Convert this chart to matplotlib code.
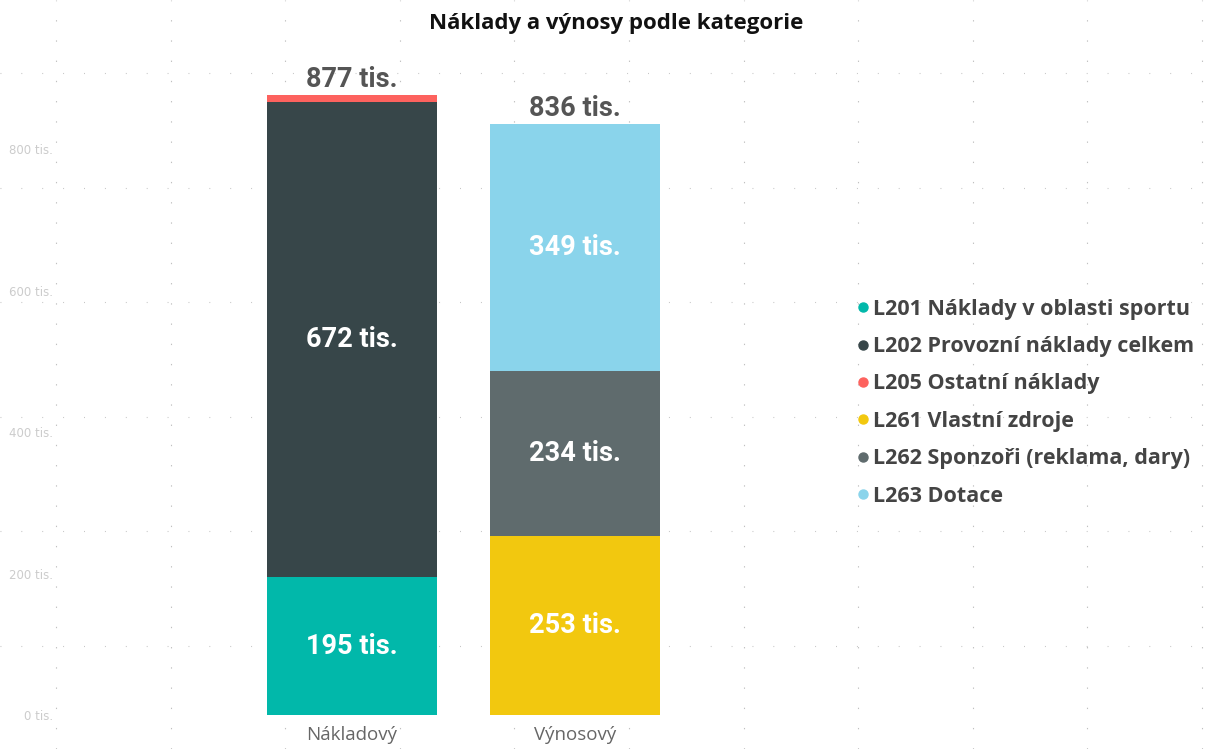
import matplotlib
matplotlib.use("Agg")
import matplotlib.pyplot as plt
from matplotlib.lines import Line2D
import numpy as np

# ---- data ----
categories = ["Nákladový", "Výnosový"]
series_names = [
    "L201 Náklady v oblasti sportu",
    "L202 Provozní náklady celkem",
    "L205 Ostatní náklady",
    "L261 Vlastní zdroje",
    "L262 Sponzoři (reklama, dary)",
    "L263 Dotace",
]
# values in thousands per category (Nákladový, Výnosový)
series_values = [
    [195, 0],
    [672, 0],
    [10, 0],
    [0, 253],
    [0, 234],
    [0, 349],
]
series_colors = ["#01B8AA", "#374649", "#FD625E", "#F2C80F", "#5F6B6D", "#8AD4EB"]
show_label = [True, True, False, True, True, True]
totals_text = ["877 tis.", "836 tis."]
ytick_values = [0, 200, 400, 600, 800]
ytick_labels = ["0 tis.", "200 tis.", "400 tis.", "600 tis.", "800 tis."]
title = "Náklady a výnosy podle kategorie"

W, H = 1209, 749
fig = plt.figure(figsize=(W / 100, H / 100), dpi=100)
fig.patch.set_facecolor("white")

# background canvas grid (Power BI edit-mode dots)
bg = fig.add_axes([0, 0, 1, 1], zorder=0)
bg.set_xlim(0, W)
bg.set_ylim(H, 0)
bg.axis("off")
step = 114.6
for i in range(11):
    bg.axvline(56 + i * step, color="#c0c0c0", lw=0.8, ls=(0, (1.2, 17)))
for j in range(6):
    bg.axhline(73 + j * step, color="#c0c0c0", lw=0.8, ls=(0, (0.8, 18)))

# main axes
ax_left, ax_right = 60, 840
ax_top, ax_bot = 60, 715
ax = fig.add_axes([ax_left / W, 1 - ax_bot / H, (ax_right - ax_left) / W, (ax_bot - ax_top) / H], zorder=1)
ax.patch.set_alpha(0)
px_per_cat = 223.0
c0 = 352
ax.set_xlim(-(c0 - ax_left) / px_per_cat, 1 + (ax_right - (c0 + px_per_cat)) / px_per_cat)
ppu = 620 / 877.0
ax.set_ylim(0, (ax_bot - ax_top) / ppu)

x = np.arange(len(categories))
bottoms = np.zeros(len(categories))
bw = 170 / px_per_cat
for name, vals, col, lab in zip(series_names, series_values, series_colors, show_label):
    vals = np.array(vals, dtype=float)
    ax.bar(x, vals, bw, bottom=bottoms, color=col, linewidth=0, label=name)
    if lab:
        for xi, v, b in zip(x, vals, bottoms):
            if v > 0:
                ax.text(xi, b + v / 2, f"{int(v)} tis.", ha="center", va="center",
                        color="white", fontsize=19.5, fontweight="bold", family="Roboto")
    bottoms += vals

for xi, tot, t in zip(x, bottoms, totals_text):
    ax.text(xi, tot + 22, t, ha="center", va="center", color="#555555",
            fontsize=19.5, fontweight="bold", family="Roboto")

for s in ax.spines.values():
    s.set_visible(False)
ax.set_yticks(ytick_values)
ax.set_yticklabels(ytick_labels, fontsize=8.5, color="#cccccc")
ax.set_xticks(x)
ax.set_xticklabels(categories, fontsize=13.5, color="#666666", family="Open Sans")
ax.tick_params(axis="both", length=0)
ax.tick_params(axis="x", pad=8)
ax.tick_params(axis="y", pad=5)

# title
fig.text(616 / W, 1 - 24 / H, title, ha="center", va="center", fontsize=16,
         fontweight="bold", color="#111111", family="Open Sans")

# legend
handles = [Line2D([], [], marker="o", linestyle="", markersize=6.5, color=c) for c in series_colors]
leg = fig.legend(handles, series_names, loc="upper left",
                 bbox_to_anchor=(847 / W, 1 - 288 / H), frameon=False,
                 prop={"family": "Open Sans", "weight": "bold", "size": 15.5},
                 handlelength=0.5, handletextpad=0.2, labelspacing=0.76, borderpad=0)
for t in leg.get_texts():
    t.set_color("#444444")

fig.savefig("out.png", dpi=100, facecolor="white")
